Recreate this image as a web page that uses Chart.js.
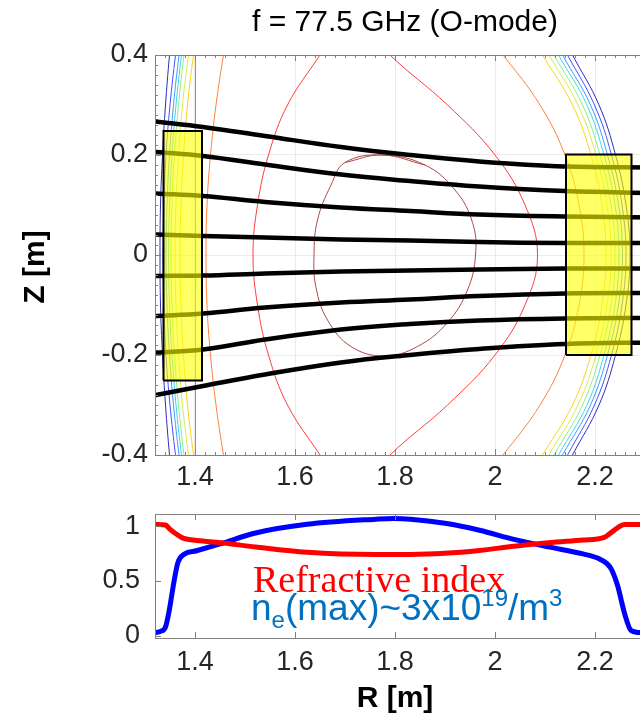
<!DOCTYPE html>
<html lang="en">
<head>
    <meta charset="UTF-8">
    <title>f = 77.5 GHz (O-mode)</title>
    <script src="https://cdn.jsdelivr.net/npm/chart.js"></script>
    <style>
        body { margin: 0; width: 640px; height: 714px; overflow: hidden; background: #fff; }
        #topWrap { position: absolute; left: 0; top: 0; }
        #bottomWrap { position: absolute; left: 0; top: 490px; }
    </style>
</head>
<body>
    <div id="topWrap"><canvas id="rayChart" width="700" height="490"></canvas></div>
    <div id="bottomWrap"><canvas id="profileChart" width="700" height="224"></canvas></div>

    <script>
        // axis ticks
        const rTicks = [1.4, 1.6, 1.8, 2, 2.2];
        const zTicks = [-0.4, -0.2, 0, 0.2, 0.4];
        const profileTicks = [0, 0.5, 1];

        // contour levels, outermost first (Z samples shared by all open contours)
        const contourZ = [0.46, 0.4, 0.3, 0.2, 0.1, 0, -0.1, -0.2, -0.3, -0.4, -0.46];
        const contourColors = ['#2d2db8', '#4452ff', '#3f9cff', '#3fd6e6', '#8eee86', '#d6ec4c', '#ffd21f', '#ff8040', '#ff3c3c'];
        const inboardR = [
            [1.355, 1.349, 1.341, 1.335, 1.331, 1.330, 1.331, 1.335, 1.341, 1.349, 1.355],
            [1.369, 1.361, 1.350, 1.342, 1.338, 1.336, 1.338, 1.342, 1.350, 1.361, 1.369],
            [1.376, 1.368, 1.357, 1.349, 1.344, 1.342, 1.344, 1.349, 1.357, 1.368, 1.376],
            [1.381, 1.373, 1.362, 1.354, 1.349, 1.347, 1.349, 1.354, 1.362, 1.373, 1.381],
            [1.386, 1.378, 1.367, 1.359, 1.354, 1.352, 1.354, 1.359, 1.367, 1.378, 1.386],
            [1.396, 1.387, 1.375, 1.367, 1.362, 1.360, 1.362, 1.367, 1.375, 1.387, 1.396],
            [1.406, 1.397, 1.385, 1.377, 1.372, 1.370, 1.372, 1.377, 1.385, 1.397, 1.406],
            [1.468, 1.457, 1.442, 1.431, 1.424, 1.422, 1.424, 1.431, 1.442, 1.457, 1.468],
            [1.690, 1.650, 1.585, 1.547, 1.525, 1.516, 1.525, 1.547, 1.585, 1.650, 1.690]
        ];
        const outboardR = [
            [2.124, 2.155, 2.208, 2.241, 2.262, 2.270, 2.262, 2.241, 2.208, 2.155, 2.124],
            [2.113, 2.145, 2.199, 2.233, 2.254, 2.262, 2.254, 2.233, 2.199, 2.145, 2.113],
            [2.103, 2.135, 2.191, 2.225, 2.247, 2.255, 2.247, 2.225, 2.191, 2.135, 2.103],
            [2.095, 2.127, 2.184, 2.218, 2.240, 2.248, 2.240, 2.218, 2.184, 2.127, 2.095],
            [2.085, 2.118, 2.175, 2.210, 2.232, 2.240, 2.232, 2.210, 2.175, 2.118, 2.085],
            [2.075, 2.108, 2.166, 2.202, 2.224, 2.232, 2.224, 2.202, 2.166, 2.108, 2.075],
            [2.060, 2.095, 2.155, 2.192, 2.214, 2.222, 2.214, 2.192, 2.155, 2.095, 2.060],
            [1.965, 2.016, 2.090, 2.140, 2.168, 2.178, 2.168, 2.140, 2.090, 2.016, 1.965],
            [1.740, 1.790, 1.905, 2.000, 2.060, 2.085, 2.060, 2.000, 1.905, 1.790, 1.740]
        ];
        // innermost closed contour (first and last pairs overlap so the join stays smooth)
        const coreR = [1.700, 1.774, 1.860, 1.920, 1.955, 1.961, 1.945, 1.905, 1.845, 1.778, 1.712, 1.665, 1.642, 1.638, 1.645, 1.672, 1.700, 1.774, 1.860];
        const coreZ = [0.185, 0.200, 0.180, 0.130, 0.065, 0, -0.070, -0.135, -0.183, -0.202, -0.183, -0.130, -0.065, 0, 0.070, 0.140, 0.185, 0.200, 0.180];
        // straight line near the inner wall
        const wallR = [1.401, 1.401];
        const wallZ = [0.46, -0.46];

        // beam rays
        const rayR = [1.322, 1.416, 1.540, 1.692, 1.830, 1.968, 2.140, 2.320];
        const rayZ1 = [0.267, 0.256, 0.238, 0.216, 0.200, 0.187, 0.177, 0.175];
        const rayZ2 = [0.206, 0.198, 0.181, 0.161, 0.148, 0.137, 0.128, 0.124];
        const rayZ3 = [0.123, 0.118, 0.106, 0.095, 0.088, 0.081, 0.077, 0.075];
        const rayZ4 = [0.041, 0.038, 0.035, 0.031, 0.029, 0.026, 0.024, 0.024];
        const rayZ5 = [-0.042, -0.041, -0.037, -0.033, -0.031, -0.029, -0.027, -0.027];
        const rayZ6 = [-0.122, -0.117, -0.105, -0.095, -0.089, -0.082, -0.077, -0.076];
        const rayZ7 = [-0.195, -0.189, -0.169, -0.149, -0.138, -0.131, -0.127, -0.126];
        const rayZ8 = [-0.280, -0.262, -0.239, -0.215, -0.200, -0.188, -0.178, -0.175];

        // antenna boxes
        const leftBoxR = [1.337, 1.414];
        const leftBoxZ = [-0.251, 0.248];
        const rightBoxR = [2.142, 2.273];
        const rightBoxZ = [-0.200, 0.201];

        // profiles
        const indexR = [1.321, 1.341, 1.348, 1.359, 1.376, 1.397, 1.452, 1.521, 1.624, 1.762, 1.831, 1.900, 1.969, 2.038, 2.107, 2.176, 2.217, 2.231, 2.245, 2.259, 2.320];
        const indexVals = [1.015, 1.01, 0.98, 0.94, 0.89, 0.873, 0.848, 0.81, 0.762, 0.742, 0.742, 0.752, 0.778, 0.816, 0.848, 0.873, 0.895, 0.936, 0.984, 1.015, 1.015];
        const densityR = [1.321, 1.331, 1.341, 1.348, 1.359, 1.366, 1.379, 1.403, 1.452, 1.521, 1.624, 1.762, 1.797, 1.831, 1.900, 1.969, 2.038, 2.107, 2.176, 2.210, 2.231, 2.245, 2.259, 2.272, 2.292, 2.320];
        const densityVals = [0.03, 0.04, 0.08, 0.22, 0.52, 0.67, 0.745, 0.775, 0.84, 0.937, 1.016, 1.063, 1.07, 1.063, 1.025, 0.962, 0.879, 0.81, 0.746, 0.698, 0.62, 0.46, 0.206, 0.05, 0.03, 0.03];

        Chart.defaults.font.family = '"Liberation Sans", Arial, sans-serif';
        Chart.defaults.color = '#262626';

        const toPts = (xs, ys) => xs.map((x, i) => ({ x: x, y: ys[i] }));
        const boxPts = (rs, zs) => toPts([rs[0], rs[1], rs[1], rs[0], rs[0]], [zs[0], zs[0], zs[1], zs[1], zs[0]]);
        const tickLabel = v => String(Math.round(v * 10) / 10);

        // frame + inward tick marks like the original figure
        const inwardTicks = {
            id: 'inwardTicks',
            afterDraw(chart, args, opts) {
                const { ctx, chartArea: a, scales } = chart;
                ctx.save();
                ctx.strokeStyle = '#808080';
                ctx.lineWidth = 1;
                ctx.strokeRect(a.left + 0.5, a.top + 0.5, a.right - a.left, a.bottom - a.top);
                const mark = (scale, v, len) => {
                    const p = Math.round(scale.getPixelForValue(v)) + 0.5;
                    ctx.beginPath();
                    if (scale.axis === 'x') {
                        ctx.moveTo(p, a.bottom); ctx.lineTo(p, a.bottom - len);
                        ctx.moveTo(p, a.top); ctx.lineTo(p, a.top + len);
                    } else {
                        ctx.moveTo(a.left, p); ctx.lineTo(a.left + len, p);
                    }
                    ctx.stroke();
                };
                [scales.x, scales.y].forEach(s => {
                    s.ticks.forEach(t => mark(s, t.value, 6));
                    if (opts.minor) {
                        for (let k = Math.ceil(s.min / opts.minor); k * opts.minor <= s.max; k++) {
                            mark(s, k * opts.minor, 3);
                        }
                    }
                });
                // optional rotated axis title, placed a little below the scale centre like the source
                if (opts.yTitle) {
                    ctx.fillStyle = '#000';
                    ctx.font = 'bold 30px "Liberation Sans", Arial, sans-serif';
                    ctx.textAlign = 'center';
                    ctx.textBaseline = 'middle';
                    ctx.translate(36, (a.top + a.bottom) / 2 + 12);
                    ctx.rotate(-Math.PI / 2);
                    ctx.fillText(opts.yTitle, 0, 0);
                }
                ctx.restore();
            }
        };

        const contourSets = [];
        contourColors.forEach((c, i) => {
            contourSets.push({ data: toPts(inboardR[i], contourZ), borderColor: c, borderWidth: 1, tension: 0.4, order: 3 });
            contourSets.push({ data: toPts(outboardR[i], contourZ), borderColor: c, borderWidth: 1, tension: 0.4, order: 3 });
        });
        contourSets.push({ data: toPts(coreR, coreZ), borderColor: '#b04848', borderWidth: 1, tension: 0.4, order: 3 });
        contourSets.push({ data: toPts(wallR, wallZ), borderColor: '#8a8ae6', borderWidth: 1, order: 3 });

        const raySets = [rayZ1, rayZ2, rayZ3, rayZ4, rayZ5, rayZ6, rayZ7, rayZ8].map(z => ({
            data: toPts(rayR, z), borderColor: '#000', borderWidth: 4.5, tension: 0.4, borderCapStyle: 'round', order: 2
        }));

        const boxSets = [[leftBoxR, leftBoxZ], [rightBoxR, rightBoxZ]].map(([r, z]) => ({
            data: boxPts(r, z), borderColor: '#000', borderWidth: 2, backgroundColor: 'rgba(255,255,0,0.6)',
            fill: 'shape', tension: 0, order: 1
        }));

        new Chart(document.getElementById('rayChart'), {
            type: 'line',
            data: { datasets: [...boxSets, ...raySets, ...contourSets] },
            options: {
                responsive: false,
                animation: false,
                events: [],
                elements: { point: { radius: 0 } },
                layout: { padding: { top: 0, right: 45, bottom: 0, left: 0 } },
                plugins: {
                    legend: { display: false },
                    tooltip: { enabled: false },
                    title: {
                        display: true,
                        text: 'f = 77.5 GHz (O-mode)',
                        fullSize: false,
                        color: '#000',
                        font: { size: 30, weight: 'normal' },
                        padding: { top: 5, bottom: 14 }
                    },
                    inwardTicks: { minor: 0.02, yTitle: 'Z [m]' }
                },
                scales: {
                    x: {
                        type: 'linear', min: 1.32, max: 2.32,
                        afterBuildTicks: s => { s.ticks = rTicks.map(v => ({ value: v })); },
                        afterFit: s => { s.height = 35; },
                        ticks: { callback: tickLabel, font: { size: 27 }, padding: 6, maxRotation: 0 },
                        grid: { color: '#ebebeb', drawTicks: false },
                        border: { color: '#808080' }
                    },
                    y: {
                        type: 'linear', min: -0.4, max: 0.4,
                        afterBuildTicks: s => { s.ticks = zTicks.map(v => ({ value: v })); },
                        afterFit: s => { s.width = 155; },
                        ticks: { callback: tickLabel, font: { size: 27 }, padding: 7 },
                        grid: { color: '#ebebeb', drawTicks: false },
                        border: { color: '#808080' }
                    }
                }
            },
            plugins: [inwardTicks]
        });

        const profileLabels = {
            id: 'profileLabels',
            afterDraw(chart) {
                const { ctx, scales: { x, y } } = chart;
                ctx.save();
                ctx.textBaseline = 'alphabetic';
                ctx.fillStyle = '#ff0000';
                ctx.font = '38px "Liberation Serif", "Times New Roman", serif';
                ctx.fillText('Refractive index', x.getPixelForValue(1.516), y.getPixelForValue(0.40));

                ctx.fillStyle = '#0070c0';
                let px = x.getPixelForValue(1.512);
                const base = y.getPixelForValue(0.145);
                const big = '37px "Liberation Sans", Arial, sans-serif';
                const small = '24px "Liberation Sans", Arial, sans-serif';
                const parts = [['n', big, 0], ['e', small, 8], ['(max)~3x10', big, 0], ['19', small, -14], ['/m', big, 0], ['3', small, -14]];
                parts.forEach(([t, f, dy]) => {
                    ctx.font = f;
                    ctx.fillText(t, px, base + dy);
                    px += ctx.measureText(t).width;
                });

                // x axis title
                ctx.fillStyle = '#000';
                ctx.font = 'bold 30px "Liberation Sans", Arial, sans-serif';
                ctx.textAlign = 'center';
                ctx.textBaseline = 'middle';
                ctx.fillText('R [m]', x.getPixelForValue(1.8), chart.height - 15);
                ctx.restore();
            }
        };

        new Chart(document.getElementById('profileChart'), {
            type: 'line',
            data: {
                datasets: [
                    { data: toPts(indexR, indexVals), borderColor: '#ff0000', borderWidth: 5, cubicInterpolationMode: 'monotone' },
                    { data: toPts(densityR, densityVals), borderColor: '#0000ff', borderWidth: 5, cubicInterpolationMode: 'monotone' }
                ]
            },
            options: {
                responsive: false,
                animation: false,
                events: [],
                elements: { point: { radius: 0 } },
                layout: { padding: { top: 24, right: 45, bottom: 0, left: 0 } },
                plugins: {
                    legend: { display: false },
                    tooltip: { enabled: false },
                    inwardTicks: {}
                },
                scales: {
                    x: {
                        type: 'linear', min: 1.32, max: 2.32,
                        afterBuildTicks: s => { s.ticks = rTicks.map(v => ({ value: v })); },
                        afterFit: s => { s.height = 76; },
                        ticks: { callback: tickLabel, font: { size: 27 }, padding: 0, maxRotation: 0 },
                        grid: { display: false },
                        border: { color: '#808080' }
                    },
                    y: {
                        type: 'linear', min: -0.02, max: 1.11,
                        afterBuildTicks: s => { s.ticks = profileTicks.map(v => ({ value: v })); },
                        afterFit: s => { s.width = 155; },
                        ticks: { callback: tickLabel, font: { size: 27 }, padding: 7 },
                        grid: { display: false },
                        border: { color: '#808080' }
                    }
                }
            },
            plugins: [inwardTicks, profileLabels]
        });
    </script>
</body>
</html>
